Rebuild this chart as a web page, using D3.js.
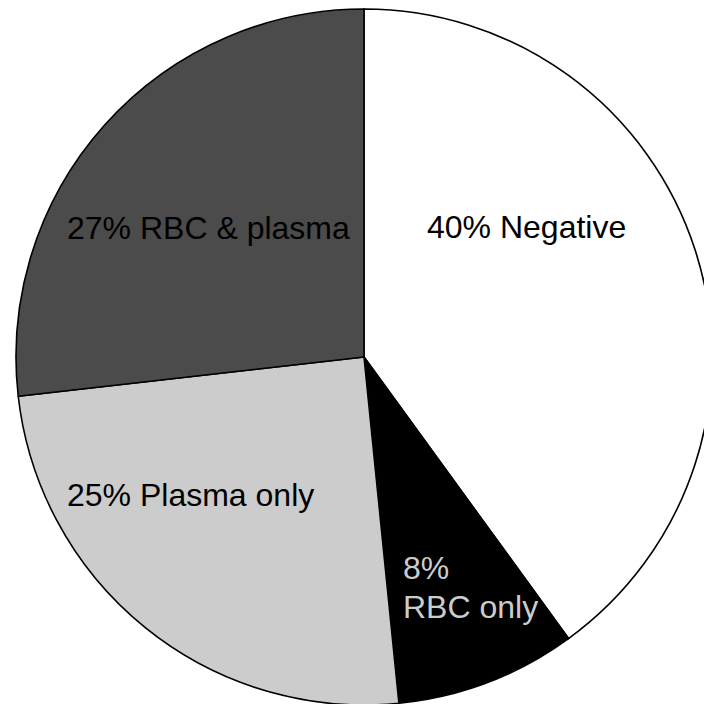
<!DOCTYPE html>
<html>
<head>
<meta charset="utf-8">
<script src="https://cdn.jsdelivr.net/npm/d3@7/dist/d3.min.js"></script>
<style>
  html, body { margin: 0; padding: 0; background: #fff; overflow: hidden; }
  svg { display: block; }
  text { font-family: "Liberation Sans", Arial, sans-serif; }
</style>
</head>
<body>
<svg id="chart" width="704" height="704"></svg>
<script>
'use strict';

// chart data, clockwise from 12 o'clock
var categories = ['Negative', 'RBC only', 'Plasma only', 'RBC & plasma'];
// slice sizes (labels show rounded values)
var shares = [40, 8.4, 24.8, 26.8];
var labelLines = [
  ['40% Negative'],
  ['8%', 'RBC only'],
  ['25% Plasma only'],
  ['27% RBC & plasma']
];

// styling / layout kept apart from the values
var fills = ['#ffffff', '#000000', '#cccccc', '#4b4b4b'];
var textFills = ['#000', '#cccccc', '#000', '#000'];
var labelPos = [ [63, -119], [39, 222], [-297, 149], [-297, -118] ]; // relative to centre, baseline
var lineGap = 39;

var cx = 364, cy = 357, radius = 348;

var svg = d3.select('#chart');
var g = svg.append('g').attr('transform', 'translate(' + cx + ',' + cy + ')');

var data = categories.map(function(c, i) {
  return { name: c, value: shares[i], i: i };
});

var pie = d3.pie().sort(null).value(function(d) { return d.value; });
var arc = d3.arc().innerRadius(0).outerRadius(radius);

var arcs = pie(data);

g.selectAll('path.slice')
  .data(arcs)
  .enter().append('path')
  .attr('class', 'slice')
  .attr('d', arc)
  .style('fill', function(d) { return fills[d.data.i]; })
  .style('stroke', '#000')
  .style('stroke-width', 1.6)
  .style('stroke-linejoin', 'round');

// labels
var labels = g.selectAll('text.lbl')
  .data(arcs)
  .enter().append('text')
  .attr('class', 'lbl')
  .attr('x', function(d) { return labelPos[d.data.i][0]; })
  .attr('y', function(d) { return labelPos[d.data.i][1]; })
  .style('font-size', '32px')
  .style('fill', function(d) { return textFills[d.data.i]; });

labels.each(function(d) {
  var t = d3.select(this);
  labelLines[d.data.i].forEach(function(str, k) {
    t.append('tspan')
      .attr('x', labelPos[d.data.i][0])
      .attr('y', labelPos[d.data.i][1] + k * lineGap)
      .text(str);
  });
});
</script>
</body>
</html>
